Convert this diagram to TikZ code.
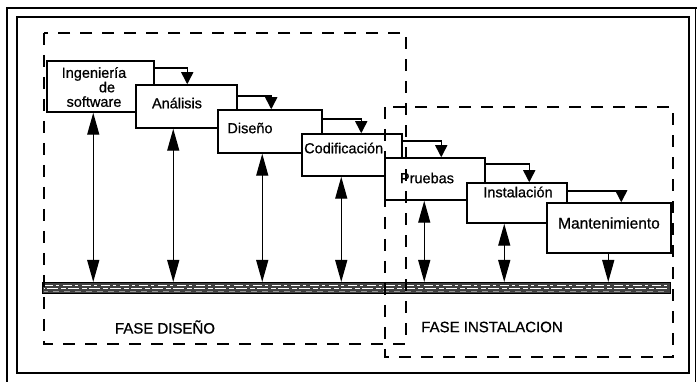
\documentclass[tikz,border=0pt]{standalone}
\usepackage{fontspec}
\setmainfont{Liberation Sans}[FakeBold=0.7]
\usetikzlibrary{arrows.meta}
\begin{document}
\begin{tikzpicture}[x=1pt,y=-1pt,
  box/.style={draw, fill=white, line width=1.5pt, inner sep=0pt},
  lbl/.style={font=\fontsize{14.5}{15}\selectfont, inner sep=0pt},
  phase/.style={font=\fontsize{15}{16}\selectfont, inner sep=0pt},
  dashbox/.style={draw, line width=1.4pt, dash pattern=on 12pt off 10pt},
  steparrow/.style={line width=1.5pt, -{Triangle[length=12pt,width=12pt]}},
  varrow/.style={line width=1.4pt, {Triangle[length=22pt,width=12pt]}-{Triangle[length=22pt,width=12pt]}},
  downarrow/.style={line width=1.4pt, -{Triangle[length=22pt,width=12pt]}},
  frame/.style={line width=1.6pt}
]
\useasboundingbox (0,0) rectangle (697,382);
\fill[white] (0,0) rectangle (697,382);
% frames
\draw[frame] (7,390) -- (7,8) -- (700,8);
\draw[frame] (695.5,8) -- (695.5,390);
\draw[frame] (17,17) rectangle (689,373);

% ground band
\node[draw, fill=black!75, minimum width=628pt, minimum height=11pt, inner sep=0pt, line width=1pt] (band) at (356,288) {};
\draw[white, line width=0.8pt, dash pattern=on 9pt off 3pt on 3pt off 4pt] (44,285.5) -- (668,285.5);
\draw[white, line width=0.7pt, dash pattern=on 5pt off 2pt on 11pt off 3pt, dash phase=4pt] (44,288.5) -- (668,288.5);
\draw[white!60!black, line width=0.6pt, dash pattern=on 6pt off 5pt, dash phase=2pt] (44,291) -- (668,291);

% process boxes
\node[box, minimum width=107pt, minimum height=51pt] (b1) at (100.5,86.5) {};
\node[box, minimum width=101pt, minimum height=43pt] (b2) at (186.5,106.5) {};
\node[box, minimum width=104pt, minimum height=43pt] (b3) at (270,131.5) {};
\node[box, minimum width=100pt, minimum height=42pt] (b4) at (352,155) {};
\node[box, minimum width=100pt, minimum height=42pt] (b5) at (435,179) {};
\node[box, minimum width=100pt, minimum height=40pt] (b6) at (517,203) {};
\node[box, minimum width=124pt, minimum height=50pt] (b7) at (609,228) {};

% labels
\node[lbl, align=center, font=\fontsize{14.5}{14.5}\selectfont] (t1) at (94,87) {Ingeniería\\\hspace*{26pt}de\\software};
\node[lbl] (t2) at (177,103) {Análisis};
\node[lbl] (t3) at (250,128) {Diseño};
\node[lbl, anchor=west] (t4) at (304,148) {Codificación};
\node[lbl] (t5) at (427,178) {Pruebas};
\node[lbl] (t6) at (518,192) {Instalación};
\node[lbl, font=\fontsize{15.5}{16}\selectfont] (t7) at (609,223) {Mantenimiento};

% step arrows
\draw[steparrow] ([yshift=-8pt]b1.north east) -| ([xshift=52pt]b2.north west);
\draw[steparrow] ([yshift=-12pt]b2.north east) -| ([xshift=54pt]b3.north west);
\draw[steparrow] ([yshift=-10pt]b3.north east) -| ([xshift=60pt]b4.north west);
\draw[steparrow] ([yshift=-8pt]b4.north east) -| ([xshift=57pt]b5.north west);
\draw[steparrow] ([yshift=-7pt]b5.north east) -| ([xshift=63pt]b6.north west);
\draw[steparrow] ([yshift=-9pt]b6.north east) -| ([xshift=75pt]b7.north west);

% vertical arrows
\draw[varrow] ([xshift=47pt]b1.south west) coordinate (v1) -- (v1 |- band.north);
\draw[varrow] ([xshift=38pt]b2.south west) coordinate (v2) -- (v2 |- band.north);
\draw[varrow] ([xshift=45pt]b3.south west) coordinate (v3) -- (v3 |- band.north);
\draw[varrow] ([xshift=40pt]b4.south west) coordinate (v4) -- (v4 |- band.north);
\draw[varrow] ([xshift=40pt]b5.south west) coordinate (v5) -- (v5 |- band.north);
\draw[varrow] ([xshift=38pt]b6.south west) coordinate (v6) -- (v6 |- band.north);
\draw[downarrow] ([xshift=62pt]b7.south west) coordinate (v7) -- (v7 |- band.north);

% phase regions
\draw[dashbox] (44,33) rectangle (406,344);
\draw[dashbox] (385,107) rectangle (673,357);
\node[phase] (p1) at (165,327) {FASE DISEÑO};
\node[phase] (p2) at (492,327) {FASE INSTALACION};
\end{tikzpicture}
\end{document}
